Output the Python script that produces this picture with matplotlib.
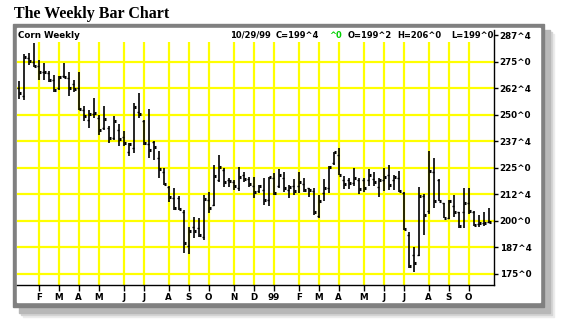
import numpy as np
import matplotlib
matplotlib.use("Agg")
import matplotlib.pyplot as plt
from matplotlib.patches import Rectangle

# weekly corn bars, jan 1998 .. 10/29/99
highs = [266.0, 278.6, 279.0, 283.6, 275.75, 274.3, 270.6, 268.7, 268.45, 274.3,
         270.1, 266.3, 270.3, 254.1, 252.35, 257.9, 250.0, 254.0, 244.5, 249.25,
         245.6, 242.2, 236.7, 255.5, 260.1, 247.5, 252.5, 237.8, 232.9, 224.8,
         216.4, 215.3, 211.7, 205.1, 197.3, 201.7, 201.2, 212.2, 213.75, 226.3,
         231.0, 225.0, 220.1, 219.3, 225.5, 223.2, 220.7, 220.5, 216.9, 220.1,
         220.9, 222.4, 224.3, 223.0, 217.1, 219.7, 223.2, 220.3, 215.7, 215.3,
         212.2, 219.7, 225.7, 232.6, 234.2, 221.1, 220.4, 224.8, 220.1, 220.1,
         224.3, 223.0, 220.4, 224.7, 226.3, 221.4, 223.5, 213.75, 194.8, 187.85,
         216.0, 212.8, 232.9, 229.6, 219.6, 208.4, 210.0, 212.2, 204.3, 215.3,
         215.5, 204.7, 203.0, 204.3, 206.0]
lows = [257.5, 256.7, 273.4, 272.5, 266.3, 266.3, 265.6, 260.9, 261.6, 267.3,
        258.6, 260.9, 252.0, 246.9, 243.7, 248.4, 240.6, 242.9, 236.7, 238.2,
        235.1, 235.1, 230.4, 231.8, 248.4, 235.7, 229.5, 228.7, 220.1, 216.9,
        209.0, 205.1, 205.1, 184.75, 184.4, 191.8, 192.6, 191.0, 203.9, 207.0,
        218.5, 216.1, 215.8, 214.5, 214.2, 218.5, 216.1, 210.6, 213.0, 207.5,
        207.0, 212.2, 215.5, 213.75, 210.6, 212.0, 213.1, 213.75, 211.4, 202.8,
        201.2, 209.4, 213.1, 226.3, 221.4, 214.8, 215.0, 216.4, 212.7, 213.4,
        216.4, 216.4, 211.25, 214.3, 214.5, 214.5, 213.6, 195.95, 177.7, 176.1,
        183.7, 193.4, 203.4, 206.3, 209.5, 201.2, 200.8, 202.0, 196.5, 196.5,
        203.25, 197.6, 197.1, 197.8, 199.0]
opens = [262.6, 259.0, 276.7, 274.8, 272.9, 270.1, 269.6, 266.3, 262.6, 268.2,
         267.3, 264.45, 262.6, 252.2, 247.5, 250.3, 248.4, 243.7, 243.7, 239.0,
         242.8, 239.5, 232.4, 234.2, 251.3, 247.2, 236.2, 237.0, 229.5, 223.0,
         215.8, 210.6, 210.8, 204.2, 188.3, 197.3, 196.7, 192.6, 209.8, 207.3,
         219.3, 224.0, 219.3, 218.3, 215.3, 221.6, 219.7, 216.4, 214.1, 214.5,
         209.8, 220.2, 216.4, 220.2, 214.5, 216.4, 216.4, 217.4, 215.3, 214.1,
         202.3, 213.1, 215.6, 227.1, 231.0, 219.3, 219.3, 217.8, 219.3, 219.3,
         219.3, 219.7, 215.8, 219.3, 221.6, 219.3, 220.2, 213.1, 193.4, 183.9,
         183.9, 211.7, 204.7, 223.2, 219.3, 208.2, 201.4, 207.0, 204.3, 204.3,
         208.4, 204.3, 198.5, 199.0, 199.25]
closes = [260.0, 277.2, 275.4, 273.1, 270.2, 270.2, 266.3, 261.6, 267.9, 267.9,
          262.6, 262.2, 252.7, 249.5, 250.3, 250.9, 242.9, 248.1, 239.2, 247.2,
          238.7, 236.8, 236.2, 253.8, 250.3, 236.8, 233.4, 234.9, 224.4, 217.4,
          211.4, 206.1, 205.5, 189.6, 195.2, 195.2, 193.4, 210.3, 206.2, 221.1,
          225.5, 218.5, 218.8, 216.6, 220.5, 219.7, 217.4, 213.75, 216.4, 209.8,
          220.8, 213.3, 221.6, 215.6, 216.1, 214.2, 218.5, 214.5, 214.5, 204.2,
          209.2, 215.6, 225.5, 232.3, 221.6, 217.5, 218.0, 220.4, 214.8, 215.6,
          221.5, 218.5, 219.4, 220.8, 216.9, 220.8, 214.2, 196.2, 178.9, 180.0,
          211.9, 202.8, 223.5, 209.5, 209.5, 201.5, 209.2, 204.3, 197.6, 208.6,
          204.8, 198.1, 199.0, 198.9, 199.5]

# week index where each month starts, and its label
month_weeks = [4, 8, 12, 16, 21, 25, 30, 34, 38, 43, 47, 51, 56, 60, 64, 69, 73, 77, 82, 86, 90]
month_labels = ["F", "M", "A", "M", "J", "J", "A", "S", "O", "N", "D", "99",
                "F", "M", "A", "M", "J", "J", "A", "S", "O"]

price_ticks = [175.0, 187.5, 200.0, 212.5, 225.0, 237.5, 250.0, 262.5, 275.0, 287.5]
price_labels = ["175^0", "187^4", "200^0", "212^4", "225^0", "237^4", "250^0", "262^4", "275^0", "287^4"]
grid_prices = price_ticks[:-1]

W, H = 568, 333


def fx(x):
    return x / W


def fy(y):
    return 1 - y / H


fig = plt.figure(figsize=(W / 100, H / 100), dpi=100)
fig.patch.set_facecolor("white")

# drop shadow + gray frame (drawn under the axes)
for off, col, z in [(10, "#ececec", -6), (8, "#d4d4d4", -5), (6, "#b8b8b8", -4)]:
    fig.patches.append(Rectangle((fx(13 + off), fy(307 + off)), fx(531), 283 / H,
                                 transform=fig.transFigure, color=col, zorder=z))
fig.patches.append(Rectangle((fx(13), fy(307)), fx(531), 283 / H,
                             transform=fig.transFigure, color="#808080", zorder=-3))
fig.patches.append(Rectangle((fx(17), fy(302)), fx(523), 274 / H,
                             transform=fig.transFigure, color="white", zorder=-2))

fig.text(fx(14), fy(14), "The Weekly Bar Chart", family="Liberation Serif",
         weight="bold", fontsize=11.5, va="center", ha="left")

ax = fig.add_axes([fx(17), fy(285), fx(494 - 17), (285 - 30) / H])
ax.set_zorder(2)
ax.set_facecolor("none")
x0 = -0.34
ax.set_xlim(x0, x0 + (494 - 17) / 5)
ax.set_ylim(175 - 11 / 2.124, 175 + 244 / 2.124)

for p in grid_prices:
    ax.axhline(p, color="#ffff00", lw=1.6, zorder=1)
ax.vlines(month_weeks, ax.get_ylim()[0], 175 + 232 / 2.124, color="#ffff00", lw=1.6, zorder=1)

idx = np.arange(len(closes))
ax.vlines(idx, lows, highs, color="black", lw=1.2, zorder=3)
ax.hlines(opens, idx - 0.4, idx, color="black", lw=1.0, zorder=3)
ax.hlines(closes, idx, idx + 0.45, color="black", lw=2.2, zorder=3)

for s in ["top", "left"]:
    ax.spines[s].set_visible(False)
for s in ["bottom", "right"]:
    ax.spines[s].set_linewidth(1.0)

ax.yaxis.tick_right()
ax.set_yticks(price_ticks)
ax.set_yticklabels(price_labels, fontsize=6.3, weight="bold")
ax.set_xticks(month_weeks)
ax.set_xticklabels(month_labels, fontsize=6.3, weight="bold")
ax.tick_params(axis="y", length=3, width=1, pad=1)
ax.tick_params(axis="x", length=4, width=1, pad=2)

# header line
hy = fy(35)
hs = 6.0
fig.text(fx(18), hy, "Corn Weekly", fontsize=6.3, weight="bold", va="center")
fig.text(fx(230), hy, "10/29/99", fontsize=hs, weight="bold", va="center")
fig.text(fx(276), hy, "C=199^4", fontsize=hs, weight="bold", va="center")
fig.text(fx(329), hy, "^0", fontsize=hs, weight="bold", va="center", color="#00d000")
fig.text(fx(348), hy, "O=199^2", fontsize=hs, weight="bold", va="center")
fig.text(fx(397), hy, "H=206^0", fontsize=hs, weight="bold", va="center")
fig.text(fx(451), hy, "L=199^0", fontsize=hs, weight="bold", va="center")

fig.savefig("out.png", dpi=100)
